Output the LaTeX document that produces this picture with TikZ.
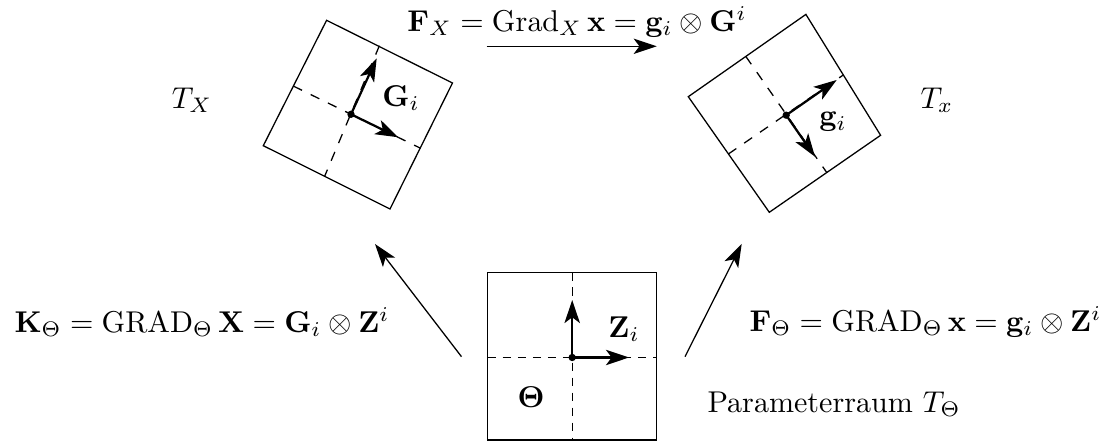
\documentclass[tikz,border=0pt]{standalone}
\usepackage{amsmath,amssymb}
\usetikzlibrary{arrows.meta}
\begin{document}
\begin{tikzpicture}[x=0.3125pt,y=-0.3125pt,
  frame/.style={line width=0.4pt},
  axisr/.style={line width=0.4pt,dash pattern=on 3pt off 3pt},
  axisc/.style={line width=0.4pt,dash pattern=on 2.6pt off 2.1pt},
  vec/.style={line width=0.7pt,-{Stealth[length=7.2pt,width=4.8pt,inset=1.8pt]}},
  map/.style={line width=0.4pt,-{Stealth[length=7.2pt,width=4.8pt,inset=1.8pt]}},
  dotn/.style={circle,fill,inner sep=0pt,minimum size=2.3pt},
  lbl/.style={inner sep=0pt,scale=0.94}
]
\useasboundingbox (0,0) rectangle (1109,446);
% left tangent space
\draw[frame] (263.3,145.7) coordinate (LL) -- (326.6,20.3) coordinate (LT) -- (452.5,83) coordinate (LR) -- (390,209) coordinate (LB) -- cycle;
\draw[axisr] (293.4,86.1) -- (420.6,148.3);
\draw[axisr] (379.4,45.7) -- (324.6,176.4);
\node[dotn] (ldot) at (351,114.3) {};
\coordinate (lv1) at (376.7,58.3);
\coordinate (lv2) at (398.3,137.3);
\draw[vec] (ldot.center) -- (lv1);
\draw[vec] (ldot.center) -- (lv2);
\node[lbl] (Gi) at (401,98) {$\mathbf{G}_i$};
\node[lbl] (TX) at (192,100) {$T_X$};
% right tangent space
\draw[frame] (688.3,96.7) coordinate (RL) -- (805.9,14.4) coordinate (RT) -- (880.6,135.3) coordinate (RR) -- (769.3,212.3) coordinate (RB) -- cycle;
\draw[axisr] (745.8,56.4) -- (826.8,172.6);
\draw[axisr] (728.4,154) -- (843.3,75);
\node[dotn] (rdot) at (786.2,115.2) {};
\coordinate (rv1) at (836.7,80);
\coordinate (rv2) at (815,156.7);
\draw[vec] (rdot.center) -- (rv1);
\draw[vec] (rdot.center) -- (rv2);
\node[lbl] (gi) at (833,122) {$\mathbf{g}_i$};
\node[lbl] (Tx) at (937,100) {$T_x$};
% parameter space
\draw[frame] (487.7,272.3) rectangle (656.7,440);
\draw[axisc] (487.7,357.5) -- (656.7,357.5);
\draw[axisc] (572.2,272.3) -- (572.2,440);
\node[dotn] (cdot) at (572.2,357.5) {};
\coordinate (cv1) at (629,357.5);
\coordinate (cv2) at (572.2,300);
\draw[vec] (cdot.center) -- (cv1);
\draw[vec] (cdot.center) -- (cv2);
\node[lbl] (Zi) at (624,329) {$\mathbf{Z}_i$};
\node[lbl] (Th) at (531,397) {$\mathbf{\Theta}$};
\node[lbl] (PR) at (834,404) {Parameterraum $T_\Theta$};
% maps
\coordinate (ma1) at (486.7,46.3);
\coordinate (ma2) at (656.7,46.3);
\coordinate (mb1) at (461.5,356.7);
\coordinate (mb2) at (375,244);
\coordinate (mc1) at (685,356.7);
\coordinate (mc2) at (741.7,244);
\draw[map] (ma1) -- (ma2);
\draw[map] (mb1) -- (mb2);
\draw[map] (mc1) -- (mc2);
\node[lbl] (FX) at (577,22) {$\mathbf{F}_X=\operatorname{Grad}_X\mathbf{x}=\mathbf{g}_i\otimes\mathbf{G}^i$};
\node[lbl] (KT) at (202,322) {$\mathbf{K}_\Theta=\operatorname{GRAD}_\Theta\mathbf{X}=\mathbf{G}_i\otimes\mathbf{Z}^i$};
\node[lbl] (FT) at (925.5,322) {$\mathbf{F}_\Theta=\operatorname{GRAD}_\Theta\mathbf{x}=\mathbf{g}_i\otimes\mathbf{Z}^i$};
\end{tikzpicture}
\end{document}
